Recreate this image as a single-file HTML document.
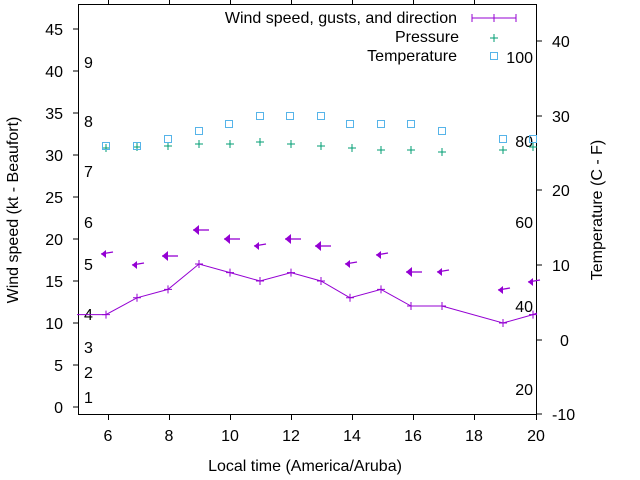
<!DOCTYPE html>
<html><head><style>body{margin:0;background:#fff}svg{display:block}text{font-family:"Liberation Sans",sans-serif;font-size:16px;fill:#000}</style></head><body>
<svg width="640" height="480" viewBox="0 0 640 480" xmlns="http://www.w3.org/2000/svg">
<defs>
<g id="ar"><path d="M0,0 L6,-5 L6,5 Z" fill="#9400d3"/><line x1="0" y1="0" x2="16" y2="0" stroke="#9400d3" stroke-width="1.3"/></g>
<g id="ar2"><path d="M0,0 L5,-4 L5,4 Z" fill="#9400d3"/><line x1="0" y1="0" x2="12" y2="-2" stroke="#9400d3" stroke-width="1.3"/></g>
</defs>
<rect x="78.5" y="4.5" width="458" height="410" fill="none" stroke="#000" stroke-width="1"/>
<g stroke="#000" stroke-width="1">
<line x1="73" y1="407" x2="78" y2="407"/><line x1="73" y1="365" x2="78" y2="365"/><line x1="73" y1="323" x2="78" y2="323"/><line x1="73" y1="281" x2="78" y2="281"/><line x1="73" y1="239" x2="78" y2="239"/><line x1="73" y1="197" x2="78" y2="197"/><line x1="73" y1="155" x2="78" y2="155"/><line x1="73" y1="113" x2="78" y2="113"/><line x1="73" y1="71" x2="78" y2="71"/><line x1="73" y1="29" x2="78" y2="29"/>
<line x1="537" y1="41" x2="542" y2="41"/><line x1="537" y1="116" x2="542" y2="116"/><line x1="537" y1="190" x2="542" y2="190"/><line x1="537" y1="265" x2="542" y2="265"/><line x1="537" y1="340" x2="542" y2="340"/><line x1="537" y1="414" x2="542" y2="414"/>
<line x1="108.5" y1="415" x2="108.5" y2="420"/><line x1="169.5" y1="415" x2="169.5" y2="420"/><line x1="230.5" y1="415" x2="230.5" y2="420"/><line x1="291.5" y1="415" x2="291.5" y2="420"/><line x1="352.5" y1="415" x2="352.5" y2="420"/><line x1="413.5" y1="415" x2="413.5" y2="420"/><line x1="474.5" y1="415" x2="474.5" y2="420"/><line x1="536.5" y1="415" x2="536.5" y2="420"/>
<line x1="108.5" y1="0" x2="108.5" y2="4"/><line x1="169.5" y1="0" x2="169.5" y2="4"/><line x1="230.5" y1="0" x2="230.5" y2="4"/><line x1="291.5" y1="0" x2="291.5" y2="4"/><line x1="352.5" y1="0" x2="352.5" y2="4"/><line x1="413.5" y1="0" x2="413.5" y2="4"/><line x1="474.5" y1="0" x2="474.5" y2="4"/>
</g>
<g text-anchor="end">
<text x="63" y="413">0</text><text x="63" y="371">5</text><text x="63" y="329">10</text><text x="63" y="287">15</text><text x="63" y="245">20</text><text x="63" y="203">25</text><text x="63" y="161">30</text><text x="63" y="119">35</text><text x="63" y="77">40</text><text x="63" y="35">45</text>
</g>
<g text-anchor="start">
<text x="552" y="47">40</text><text x="552" y="122">30</text><text x="552" y="196">20</text><text x="552" y="271">10</text><text x="560" y="346">0</text><text x="552" y="420">-10</text>
</g>
<g text-anchor="middle">
<text x="108" y="441">6</text><text x="169" y="441">8</text><text x="230" y="441">10</text><text x="291" y="441">12</text><text x="352" y="441">14</text><text x="413" y="441">16</text><text x="474" y="441">18</text><text x="536" y="441">20</text>
<text x="305" y="471">Local time (America/Aruba)</text>
</g>
<text transform="translate(18,210) rotate(-90)" text-anchor="middle">Wind speed (kt - Beaufort)</text>
<text transform="translate(602,210) rotate(-90)" text-anchor="middle">Temperature (C - F)</text>
<g>
<text x="84" y="403">1</text><text x="84" y="378">2</text><text x="84" y="353">3</text><text x="84" y="320">4</text><text x="84" y="270">5</text><text x="84" y="228">6</text><text x="84" y="177">7</text><text x="84" y="127">8</text><text x="84" y="68">9</text>
</g>
<g text-anchor="end">
<text x="533" y="63">100</text><text x="533" y="147">80</text><text x="533" y="228">60</text><text x="533" y="312">40</text><text x="533" y="395">20</text>
</g>
<g text-anchor="end">
<text x="457" y="23">Wind speed, gusts, and direction</text><text x="459" y="42">Pressure</text><text x="457" y="61">Temperature</text>
</g>
<g stroke="#9400d3" stroke-width="1"><line x1="472" y1="18" x2="516" y2="18"/><line x1="472" y1="14" x2="472" y2="22"/><line x1="494" y1="14" x2="494" y2="22"/><line x1="516" y1="14" x2="516" y2="22"/></g>
<g stroke="#009e73" stroke-width="1"><line x1="490" y1="38" x2="498" y2="38"/><line x1="494" y1="34" x2="494" y2="42"/></g>
<rect x="490.5" y="52.5" width="7" height="7" fill="none" stroke="#56b4e9"/>
<polyline fill="none" stroke="#9400d3" stroke-width="1" points="77,314.6 106,314.6 137,297.8 168,289.4 199,264 230,272.6 260,281 291,272.6 321,281 350,297.8 381,289.4 411,306 442,306 503,323 533,314.6 537,313"/>
<g stroke="#9400d3" stroke-width="1" id="wp">
<path d="M102,314.6h8M106,310.6v8M133,297.8h8M137,293.8v8M164,289.4h8M168,285.4v8M195,264h8M199,260v8M226,272.6h8M230,268.6v8M256,281h8M260,277v8M287,272.6h8M291,268.6v8M317,281h8M321,277v8M346,297.8h8M350,293.8v8M377,289.4h8M381,285.4v8M407,306h8M411,302v8M438,306h8M442,302v8M499,323h8M503,319v8M529,314.6h8M533,310.6v8"/>
</g>
<use href="#ar2" x="101" y="254"/><use href="#ar2" x="132" y="265"/><use href="#ar" x="162" y="256"/><use href="#ar" x="193" y="230"/><use href="#ar" x="224" y="239"/><use href="#ar2" x="254" y="246"/><use href="#ar" x="285" y="239"/><use href="#ar" x="315" y="246"/><use href="#ar2" x="345" y="264"/><use href="#ar2" x="376" y="255"/><use href="#ar" x="406" y="272"/><use href="#ar2" x="437" y="272"/><use href="#ar2" x="498" y="290"/><use href="#ar2" x="528" y="282"/>
<g stroke="#009e73" stroke-width="1">
<path d="M102,148h8M106,144v8M133,147h8M137,143v8M164,146h8M168,142v8M195,144h8M199,140v8M226,144h8M230,140v8M256,142h8M260,138v8M287,144h8M291,140v8M317,146h8M321,142v8M348,148h8M352,144v8M377,150h8M381,146v8M407,150h8M411,146v8M438,152h8M442,148v8M499,150h8M503,146v8M529,147h8M533,143v8"/>
</g>
<g fill="none" stroke="#56b4e9" stroke-width="1">
<rect x="102.5" y="142.5" width="7" height="7"/><rect x="133.5" y="142.5" width="7" height="7"/><rect x="164.5" y="135.5" width="7" height="7"/><rect x="195.5" y="127.5" width="7" height="7"/><rect x="225.5" y="120.5" width="7" height="7"/><rect x="256.5" y="112.5" width="7" height="7"/><rect x="286.5" y="112.5" width="7" height="7"/><rect x="317.5" y="112.5" width="7" height="7"/><rect x="346.5" y="120.5" width="7" height="7"/><rect x="377.5" y="120.5" width="7" height="7"/><rect x="407.5" y="120.5" width="7" height="7"/><rect x="438.5" y="127.5" width="7" height="7"/><rect x="499.5" y="135.5" width="7" height="7"/><rect x="529.5" y="135.5" width="7" height="7"/>
</g>
</svg>
</body></html>
